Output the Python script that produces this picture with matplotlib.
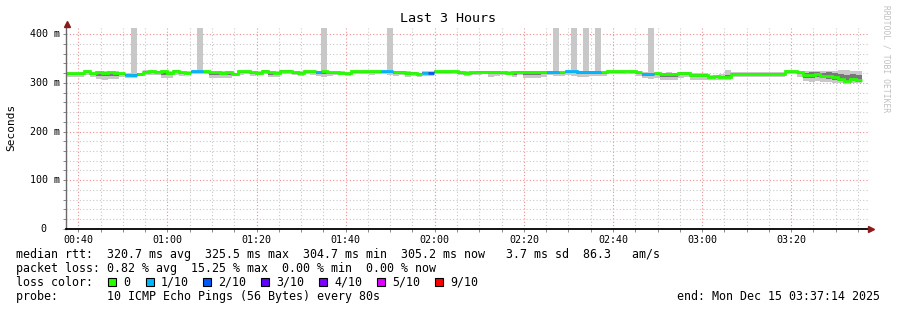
import numpy as np
import matplotlib
matplotlib.use("Agg")
import matplotlib.pyplot as plt
from matplotlib.patches import Rectangle
from matplotlib.ticker import MultipleLocator, FixedLocator, NullFormatter
import matplotlib.transforms as mtransforms

# ---------------- data ----------------
start_minute = 37 + 14 / 60.0      # 00:37:14
step_minutes = 80 / 60.0           # 80 s per rrd step
window_minutes = 180               # last 3 hours

median = [
    319.7, 319.9, 319.5, 323.5, 319.6, 321.8, 321.4, 321.6, 321.3, 319.7,
    316.3, 316.5, 318.0, 323.4, 323.6, 323.3, 323.5, 320.8, 325.5, 321.5,
    321.3, 324.0, 324.2, 323.9, 321.5, 321.7, 321.4, 321.6, 318.0, 324.1,
    323.9, 321.5, 321.3, 324.8, 321.6, 321.4, 324.7, 324.9, 321.5, 321.3,
    324.0, 324.2, 322.0, 324.1, 321.5, 321.6, 321.3, 319.7, 324.0, 324.2,
    323.9, 324.1, 324.0, 323.8, 324.1, 322.0, 322.2, 320.5, 320.6, 318.0,
    320.8, 320.7, 324.0, 324.1, 323.9, 324.2, 321.5, 321.3, 321.6, 323.0,
    323.2, 322.9, 323.1, 321.5, 321.4, 321.6, 322.5, 322.4, 322.6, 322.5,
    322.3, 322.0, 322.1, 321.5, 324.0, 324.1, 322.0, 322.2, 321.9, 322.1,
    321.5, 324.0, 324.1, 323.9, 324.2, 324.0, 321.5, 318.5, 318.6, 319.7,
    318.0, 318.2, 317.9, 320.0, 320.1, 317.0, 317.2, 316.9, 313.0, 313.2,
    312.9, 313.1, 318.0, 319.0, 319.2, 318.9, 319.1, 319.0, 318.8, 319.1,
    319.0, 324.0, 324.1, 321.5, 317.0, 317.2, 318.0, 314.0, 314.2, 311.5,
    308.5, 304.7, 308.5, 305.2,
]

loss_tenths = [
    0, 0, 0, 0, 0, 0, 0, 0, 0, 0,
    1, 1, 0, 0, 0, 0, 0, 0, 0, 0,
    0, 1, 1, 0, 0, 0, 0, 0, 0, 0,
    0, 0, 0, 0, 0, 0, 0, 0, 0, 0,
    0, 0, 1, 0, 0, 0, 0, 0, 0, 0,
    0, 0, 0, 1, 1, 0, 0, 0, 0, 0,
    1, 2, 0, 0, 0, 0, 0, 0, 0, 0,
    0, 0, 0, 0, 0, 0, 0, 0, 0, 0,
    0, 1, 1, 0, 1, 1, 1, 1, 1, 1,
    0, 0, 0, 0, 0, 0, 0, 1, 1, 0,
    0, 0, 0, 0, 0, 0, 0, 0, 0, 0,
    0, 0, 0, 0, 0, 0, 0, 0, 0, 0,
    0, 0, 0, 0, 0, 0, 0, 0, 0, 0,
    0, 0, 0, 0,
]

ping_max = [
    323, 322.5, 323, 326, 322.5, 324.5, 325, 324, 324.5, 322.5,
    320, 600, 321, 326, 326.5, 325.5, 326, 324, 327.5, 324.5,
    324, 326.5, 600, 326.5, 324.5, 324, 324.5, 324, 321, 326.5,
    326.5, 324.5, 324, 327, 324.5, 324, 327, 327, 324, 324.5,
    326.5, 326.5, 325, 600, 324, 324.5, 324, 322.5, 326.5, 326.5,
    326, 326.5, 326, 326.5, 600, 325, 324.5, 323.5, 323, 321,
    323.5, 323.5, 326.5, 326, 326.5, 326, 324, 324.5, 324, 325.5,
    325.5, 325.5, 325, 324, 324.5, 324, 325, 325, 325.5, 325,
    325, 325, 600, 324.5, 326.5, 600, 325, 600, 325, 600,
    324, 326.5, 326, 326.5, 326.5, 326, 324, 321.5, 600, 322.5,
    321, 321.5, 321, 323, 323, 320.5, 320, 320.5, 317, 317,
    318, 326, 323, 322, 322.5, 322, 322, 321.5, 322, 322,
    322.5, 326.5, 326.5, 325, 324, 324.5, 325, 324, 325, 324,
    326, 326, 325, 324,
]

ping_min = [
    312, 311.5, 313, 316, 313, 309, 307, 307.5, 309, 313,
    311, 310.5, 314, 315.5, 316, 316, 311, 309.5, 317, 315,
    316, 318, 317.5, 318, 311, 310, 309.5, 310.5, 314, 317,
    318, 315, 315.5, 318, 312, 312.5, 318, 318.5, 316, 315,
    318, 316, 315, 313, 313.5, 316, 316.5, 314, 318, 318.5,
    318, 317, 318.5, 318, 316, 314.5, 316, 312.5, 315, 313,
    314, 315, 318, 317.5, 318, 318.5, 316, 314, 315.5, 317,
    317.5, 312.5, 313.5, 316, 315.5, 312, 316.5, 311, 310, 310.5,
    313, 315.5, 315, 314, 317, 314.5, 313, 312.5, 313.5, 314,
    315, 318, 317.5, 318, 318.5, 318, 315, 310, 309, 311,
    306, 305.5, 307, 311, 312, 306, 305.5, 306.5, 305, 306,
    305.5, 307, 312, 313, 312.5, 313, 312, 311.5, 312, 313,
    313, 318, 317.5, 312, 303, 302.5, 303, 302, 301, 300,
    299, 298.5, 299.5, 299,
]

inner_lo = [
    316, 315.5, 316, 320.5, 316.5, 315, 314, 313.5, 315, 316.5,
    313.5, 313, 315, 320, 319.5, 320, 316.5, 316, 321.5, 318.5,
    318.5, 321, 320.5, 321, 317, 316.5, 316, 317, 315.5, 321,
    321, 318, 318.5, 321.5, 317, 317.5, 321.5, 321.5, 318.5, 318,
    321, 320.5, 319, 319, 318, 318.5, 319, 316.5, 321, 321,
    321, 320.5, 321, 321, 320, 319, 318.5, 316.5, 317.5, 315.5,
    317.5, 318, 321, 321, 321, 321.5, 318.5, 317.5, 318, 320,
    320.5, 317.5, 318, 319, 318.5, 316.5, 319.5, 316.5, 315.5, 316,
    318, 319, 319, 318.5, 321, 319.5, 318.5, 318, 318.5, 319,
    318.5, 321, 321, 321, 321.5, 321, 318.5, 314.5, 314, 315.5,
    312, 311.5, 312.5, 316, 316.5, 312, 311.5, 312, 309.5, 310,
    309.5, 310.5, 315.5, 316, 315.5, 316, 315.5, 315.5, 316, 316,
    316.5, 321, 321, 318, 311, 310.5, 312, 309.5, 308.5, 306.5,
    304, 302, 304, 302,
]

inner_hi = [
    321, 321, 321, 325, 321, 323, 323, 323, 323, 321,
    318, 318, 319.5, 325, 325, 325, 325, 322.5, 326.5, 323,
    323, 325.5, 325.5, 325.5, 323, 323, 323, 323, 319.5, 325.5,
    325.5, 323, 323, 326, 323, 323, 326, 326, 323, 323,
    325.5, 325.5, 323.5, 325.5, 323, 323, 323, 321, 325.5, 325.5,
    325.5, 325.5, 325.5, 325.5, 325.5, 323.5, 323.5, 322, 322, 319.5,
    322, 322, 325.5, 325.5, 325.5, 325.5, 323, 323, 323, 324.5,
    324.5, 324.5, 324.5, 323, 323, 323, 324, 324, 324, 324,
    324, 323.5, 323.5, 323, 325.5, 325.5, 323.5, 323.5, 323.5, 323.5,
    323, 325.5, 325.5, 325.5, 325.5, 325.5, 323, 320, 320, 321,
    319.5, 319.5, 319.5, 321.5, 321.5, 318.5, 318.5, 318.5, 315, 315,
    315, 316, 319.5, 320.5, 320.5, 320.5, 320.5, 320.5, 320.5, 320.5,
    320.5, 325.5, 325.5, 323, 321, 322, 322, 321, 322, 320,
    319, 317, 318, 316,
]

x_tick_minutes = [40, 60, 80, 100, 120, 140, 160, 180, 200]
x_tick_labels = ["00:40", "01:00", "01:20", "01:40", "02:00", "02:20", "02:40", "03:00", "03:20"]
y_tick_values = [0, 100, 200, 300, 400]
y_tick_labels = ["0", "100 m", "200 m", "300 m", "400 m"]

loss_levels = [0, 1, 2, 3, 4, 5, 9]
loss_labels = ["0", "1/10", "2/10", "3/10", "4/10", "5/10", "9/10"]
loss_colors = ["#26ff00", "#00b8ff", "#0059ff", "#5e00ff", "#7e00ff", "#dd00ff", "#ff0000"]

title = "Last 3 Hours"
legend_lines = [
    "median rtt:  320.7 ms avg  325.5 ms max  304.7 ms min  305.2 ms now   3.7 ms sd  86.3   am/s",
    "packet loss: 0.82 % avg  15.25 % max  0.00 % min  0.00 % now",
    "loss color:",
    "probe:       10 ICMP Echo Pings (56 Bytes) every 80s",
]
end_text = "end: Mon Dec 15 03:37:14 2025"

# ---------------- figure ----------------
W, H = 897, 310
MONO = "DejaVu Sans Mono"
plt.rcParams["font.family"] = [MONO, "DejaVu Sans"]

fig = plt.figure(figsize=(W / 100, H / 100), dpi=100)
fig.patch.set_facecolor("white")

ax_left, ax_right, ax_bottom_px, ax_top_px = 66, 868, 228.7, 28.0
ax = fig.add_axes([ax_left / W, (H - ax_bottom_px) / H,
                   (ax_right - ax_left) / W, (ax_bottom_px - ax_top_px) / H])
ax.set_facecolor("white")

N = len(median)
x_edges = start_minute + step_minutes * np.arange(N + 1)


def ext(a):
    a = np.asarray(a, dtype=float)
    return np.append(a, a[-1])


ax.fill_between(x_edges, ext(ping_min), ext(ping_max), step="post",
                color="#c8c8c8", lw=0, zorder=2)
ax.fill_between(x_edges, ext(inner_lo), ext(inner_hi), step="post",
                color="#787878", lw=0, zorder=3)

med = np.asarray(median, dtype=float)
loss = np.asarray(loss_tenths)
for lvl, col in zip(loss_levels, loss_colors):
    if not np.any(loss == lvl):
        continue
    y = np.where(loss == lvl, med, np.nan)
    ax.plot(x_edges, ext(y), drawstyle="steps-post", color=col, lw=2.0,
            solid_capstyle="butt", solid_joinstyle="miter", zorder=4)

ax.set_xlim(start_minute, start_minute + window_minutes)
ax.set_ylim(0, 413)

# grid
ax.xaxis.set_major_locator(FixedLocator(x_tick_minutes))
ax.xaxis.set_minor_locator(MultipleLocator(5))
ax.yaxis.set_major_locator(FixedLocator(y_tick_values))
ax.yaxis.set_minor_locator(MultipleLocator(20))
ax.grid(which="minor", color="#c8c8c8", linestyle=(0, (1, 2)), lw=0.8, zorder=1)
ax.grid(which="major", color="#f08c8c", linestyle=(0, (1, 2)), lw=0.8, zorder=1)
ax.set_axisbelow(True)

ax.set_xticklabels(x_tick_labels, fontsize=7.2, family=MONO)
ax.yaxis.set_major_formatter(NullFormatter())
ax.tick_params(axis="x", which="both", direction="out", length=2, width=0.7,
               color="#888888", pad=2.5)
ax.tick_params(axis="y", which="both", direction="out", length=2, width=0.7,
               color="#888888")

trans = mtransforms.blended_transform_factory(ax.transAxes, ax.transData)
for v, lab in zip(y_tick_values, y_tick_labels):
    xr = 60 if lab != "0" else 46.7
    ax.text((xr - ax_left) / (ax_right - ax_left), v, lab, transform=trans,
            ha="right", va="center", fontsize=7.2, family=MONO, color="black")

for s in ax.spines.values():
    s.set_visible(False)
# axes lines with arrows
ax.plot([0, 0], [0, 1.02], transform=ax.transAxes, color="#6a6a6a", lw=1.0,
        clip_on=False, zorder=6)
ax.plot([0, 1.003], [0, 0], transform=ax.transAxes, color="black", lw=1.3,
        clip_on=False, zorder=6)
ax.plot([0.0008], [1.022], marker="^", ms=4, color="#8b1a1a", transform=ax.transAxes,
        clip_on=False, zorder=7)
ax.plot([1.004], [0.0], marker=">", ms=4, color="#8b1a1a", transform=ax.transAxes,
        clip_on=False, zorder=7)

# texts
fig.text(448 / W, 1 - 19 / H, title, ha="center", va="center", fontsize=9.6,
         family=MONO)
fig.text(11 / W, 1 - 127 / H, "Seconds", ha="center", va="center", rotation=90,
         fontsize=8.0, family=MONO)
fig.text(886 / W, 1 - 59 / H, "RRDTOOL / TOBI OETIKER", ha="center", va="center",
         rotation=-90, fontsize=5.8, family=MONO, color="#c0c0c0")

row_y = [254.3, 268.3, 282.3, 296.3]
for txt, yy in zip(legend_lines, row_y):
    fig.text(16 / W, 1 - yy / H, txt, ha="left", va="center", fontsize=8.4,
             family=MONO)

box_x = [108, 146, 203, 261, 319, 377, 435]
for bx, lab, col in zip(box_x, loss_labels, loss_colors):
    fig.add_artist(Rectangle((bx / W, 1 - 286.3 / H), 8 / W, 8 / H,
                             transform=fig.transFigure, facecolor=col,
                             edgecolor="black", lw=0.8))
    fig.text((bx + 15) / W, 1 - 282.3 / H, lab, ha="left", va="center",
             fontsize=8.4, family=MONO)

fig.text(880 / W, 1 - 296.3 / H, end_text, ha="right", va="center", fontsize=8.4,
         family=MONO)

fig.savefig("out.png", dpi=100, facecolor="white")
